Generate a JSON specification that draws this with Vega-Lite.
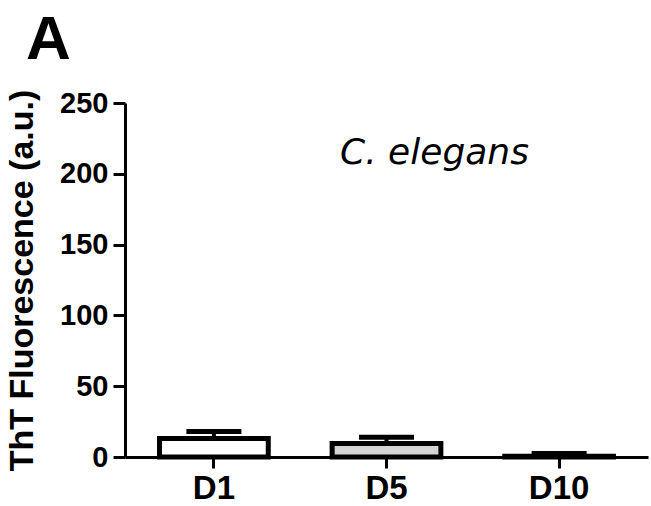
{
  "$schema": "https://vega.github.io/schema/vega-lite/v6.json",
  "width": 523,
  "height": 354,
  "autosize": {"type": "none"},
  "padding": {"left": 125, "top": 103, "right": 3, "bottom": 49},
  "background": "white",
  "title": {
    "text": "A",
    "anchor": "start",
    "frame": "group",
    "dx": -99,
    "baseline": "bottom",
    "offset": -45,
    "fontSize": 62,
    "font": "Liberation Sans",
    "fontWeight": "bold",
    "color": "black"
  },
  "config": {
    "view": {"stroke": null},
    "axis": {"grid": false, "domainColor": "black", "tickColor": "black", "labelColor": "black", "titleColor": "black", "labelFont": "Liberation Sans", "titleFont": "Liberation Sans", "labelFontWeight": "bold", "titleFontWeight": "bold"}
  },
  "data": {
    "values": [
      {"day": "D1", "mean": 13, "upper": 18},
      {"day": "D5", "mean": 9.5, "upper": 14},
      {"day": "D10", "mean": 0.5, "upper": 2.5}
    ]
  },
  "encoding": {
    "x": {
      "field": "day",
      "type": "nominal",
      "sort": ["D1", "D5", "D10"],
      "scale": {"paddingInner": 0.37, "paddingOuter": 0.2},
      "axis": {"title": null, "labelAngle": 0, "labelFontSize": 33, "labelPadding": 4, "domainWidth": 3, "tickWidth": 3, "tickSize": 11}
    }
  },
  "layer": [
    {
      "mark": {"type": "rule", "strokeWidth": 4, "color": "black"},
      "encoding": {
        "y": {"field": "mean", "type": "quantitative"},
        "y2": {"field": "upper"}
      }
    },
    {
      "mark": {"type": "tick", "size": 55, "thickness": 5, "color": "black", "opacity": 1},
      "encoding": {
        "y": {"field": "upper", "type": "quantitative"}
      }
    },
    {
      "mark": {"type": "bar", "stroke": "black", "strokeWidth": 5, "opacity": 1},
      "encoding": {
        "y": {
          "field": "mean",
          "type": "quantitative",
          "scale": {"domain": [0, 250], "nice": false},
          "axis": {"title": "ThT Fluorescence (a.u.)", "values": [0, 50, 100, 150, 200, 250], "labelFontSize": 29, "labelPadding": 5, "titleFontSize": 34, "titlePadding": 20, "domainWidth": 3, "tickWidth": 3, "tickSize": 12}
        },
        "color": {
          "field": "day",
          "type": "nominal",
          "scale": {"domain": ["D1", "D5", "D10"], "range": ["#ffffff", "#d4d4d4", "#a0a0a0"]},
          "legend": null
        }
      }
    },
    {
      "data": {"values": [{"label": "C. elegans", "day": "D5", "val": 207}]},
      "mark": {"type": "text", "font": "DejaVu Sans", "fontStyle": "italic", "fontSize": 36, "baseline": "alphabetic", "align": "center", "dx": 48, "color": "black"},
      "encoding": {
        "x": {"field": "day", "type": "nominal"},
        "y": {"field": "val", "type": "quantitative"},
        "text": {"field": "label"}
      }
    }
  ]
}
